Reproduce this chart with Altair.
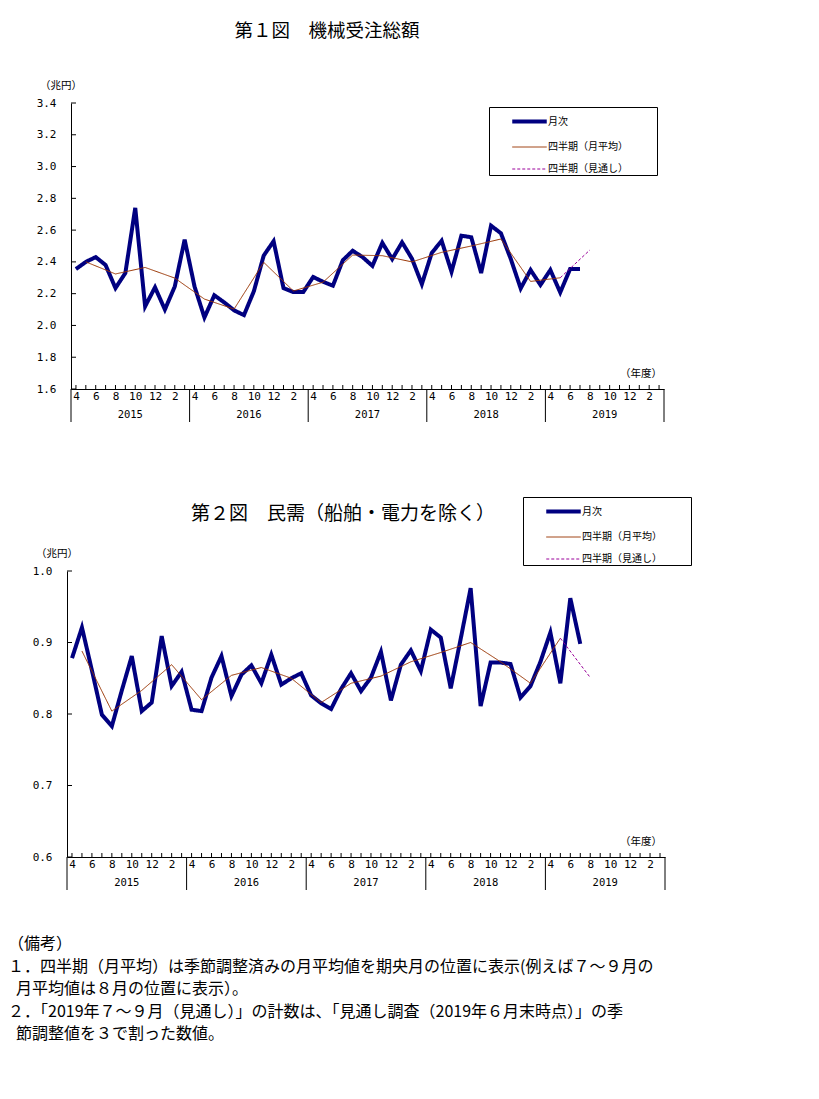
import json
import altair as alt
import pandas as pd

# ---------------- data ----------------
years = ["2015", "2016", "2017", "2018", "2019"]
month_labels = ["4", "", "6", "", "8", "", "10", "", "12", "", "2", ""] * 5
series_names = ["月次", "四半期（月平均）", "四半期（見通し）"]
series_colors = ["#000080", "#993300", "#990099"]
series_dashes = [[1, 0], [1, 0], [3, 2]]
series_widths = [4, 1, 1]

# 第1図 機械受注総額 (兆円), 2015年4月 - 2019年7月
m1 = [2.355, 2.40, 2.43, 2.38, 2.235, 2.33, 2.74, 2.12, 2.24, 2.10, 2.245, 2.54,
      2.245, 2.05, 2.19, 2.145, 2.095, 2.065, 2.215, 2.44, 2.53, 2.235, 2.21, 2.21,
      2.305, 2.275, 2.25, 2.41, 2.47, 2.43, 2.375, 2.52, 2.418, 2.523, 2.42, 2.26,
      2.456, 2.533, 2.338, 2.565, 2.555, 2.33, 2.628, 2.58, 2.418, 2.233, 2.349, 2.255,
      2.349, 2.208, 2.355, 2.355]
q1 = [2.40, 2.324, 2.365, 2.298, 2.166, 2.103, 2.397, 2.217,
      2.272, 2.443, 2.439, 2.40, 2.46, 2.50, 2.544, 2.277, 2.30]
f1 = [2.30, 2.475]

# 第2図 民需（船舶・電力を除く）(兆円)
m2 = [0.878, 0.921, 0.861, 0.799, 0.783, 0.833, 0.881, 0.804, 0.816, 0.909, 0.839, 0.859,
      0.806, 0.804, 0.851, 0.881, 0.825, 0.855, 0.868, 0.843, 0.883, 0.841, 0.850, 0.857,
      0.826, 0.815, 0.807, 0.835, 0.857, 0.832, 0.851, 0.887, 0.819, 0.869, 0.889, 0.860,
      0.918, 0.907, 0.836, 0.905, 0.976, 0.811, 0.872, 0.872, 0.870, 0.823, 0.839, 0.873,
      0.914, 0.843, 0.962, 0.898]
q2 = [0.888, 0.804, 0.833, 0.869, 0.820, 0.854, 0.865, 0.850,
      0.816, 0.843, 0.853, 0.873, 0.886, 0.900, 0.873, 0.843, 0.906]
f2 = [0.906, 0.851]
forecast_idx = [49, 52]

y1_ticks = [1.6, 1.8, 2.0, 2.2, 2.4, 2.6, 2.8, 3.0, 3.2, 3.4]
y2_ticks = [0.6, 0.7, 0.8, 0.9, 1.0]

titles = ["第１図　機械受注総額", "第２図　民需（船舶・電力を除く）"]
unit_label = "（兆円）"
fy_label = "（年度）"
note_lines = [
    "（備考）",
    "１．四半期（月平均）は季節調整済みの月平均値を期央月の位置に表示(例えば７～９月の",
    "月平均値は８月の位置に表示）。",
    "２．「2019年７～９月（見通し）」の計数は、「見通し調査（2019年６月末時点）」の季",
    "節調整値を３で割った数値。",
]
note_indent = [0, 0, 1, 0, 1]

JP = "Noto Sans CJK JP"
NUM = "DejaVu Sans Mono"
PAD = "\u2800" * 4  # blank glyphs that keep the legend box wide on the right


def txt(s, x, y, size, font=JP, align="center", baseline="middle"):
    return alt.Chart(pd.DataFrame({"t": [s]})).mark_text(
        font=font, fontSize=size, align=align, baseline=baseline, color="black"
    ).encode(x=alt.value(x), y=alt.value(y), text="t:N")


def panel(m, q, f, yticks, ydom, W, H, xoff, title, title_xy, title_size, legend_xy, extra=()):
    rows = []
    for i, v in enumerate(m):
        rows.append({"idx": i, "v": v, "s": series_names[0]})
    for k, v in enumerate(q):
        rows.append({"idx": 1 + 3 * k, "v": v, "s": series_names[1]})
    for k, v in enumerate(f):
        rows.append({"idx": forecast_idx[k], "v": v, "s": series_names[2]})
    df = pd.DataFrame(rows)

    xs = alt.Scale(domain=[-0.5, 59.5], range=[xoff, W], nice=False, zero=False)
    ys = alt.Scale(domain=ydom, nice=False, zero=False)

    leg = alt.Legend(
        orient="none", legendX=legend_xy[0], legendY=legend_xy[1], title=None,
        symbolType="M-1.5,0H1.5", symbolSize=529, strokeColor="black", fillColor="white",
        padding=1, symbolOffset=26, rowPadding=5, labelFont=JP, labelFontSize=10,
        labelColor="black", labelOffset=5, labelExpr="datum.label + '%s'" % PAD,
    )

    xaxis = alt.Axis(
        values=list(range(60)),
        labelExpr=json.dumps(month_labels) + "[datum.value]",
        tickSize=0, grid=False, domainColor="black", labelColor="black",
        labelFont=NUM, labelFontSize=11, labelPadding=1, labelFlush=False,
        labelOverlap=False, title=None,
    )
    yaxis = alt.Axis(
        values=yticks, format=".1f", tickSize=0, grid=False, domainColor="black",
        labelColor="black", labelFont=NUM, labelFontSize=11, labelPadding=15,
        title=None, offset=-xoff,
    )
    X = lambda: alt.X("idx:Q", scale=xs, axis=xaxis)
    Y = lambda: alt.Y("v:Q", scale=ys, axis=yaxis)

    lines = alt.Chart(df).mark_line().encode(
        x=X(), y=Y(),
        color=alt.Color("s:N", scale=alt.Scale(domain=series_names, range=series_colors), legend=leg),
        strokeDash=alt.StrokeDash("s:N", scale=alt.Scale(domain=series_names, range=series_dashes), legend=leg),
        strokeWidth=alt.StrokeWidth("s:N", scale=alt.Scale(type="ordinal", domain=series_names, range=series_widths), legend=leg),
    )

    ytick_marks = alt.Chart(pd.DataFrame({"v": yticks})).mark_rule(color="black").encode(
        y=Y(), x=alt.value(xoff), x2=alt.value(xoff + 5)
    )
    xtick_marks = alt.Chart(pd.DataFrame({"idx": list(range(60))})).mark_rule(color="black").encode(
        x=X(), y=alt.value(H - 4), y2=alt.value(H)
    )
    seps = alt.Chart(pd.DataFrame({"idx": [-0.5 + 12 * k for k in range(6)]})).mark_rule(color="black").encode(
        x=X(), y=alt.value(H), y2=alt.value(H + 33)
    )
    ylabels = alt.Chart(pd.DataFrame({"idx": [5.5 + 12 * k for k in range(5)], "yr": years})).mark_text(
        font=NUM, fontSize=10.5, color="black", baseline="middle"
    ).encode(x=X(), y=alt.value(H + 26), text="yr:N")

    layers = [lines, ytick_marks, xtick_marks, seps, ylabels,
              txt(title, title_xy[0], title_xy[1], title_size),
              txt(unit_label, xoff - 10, -17, 10.5),
              txt(fy_label, 595, H - 15, 10.5, align="right")]
    layers += list(extra)
    return alt.layer(*layers).properties(width=W, height=H)


notes = []
for k, s in enumerate(note_lines):
    notes.append(txt(s, -59 + 8 * note_indent[k], 373 + 22.5 * k, 16, align="left"))

p1 = panel(m1, q1, f1, y1_ticks, [1.6, 3.4], 597, 286, 4, titles[0], (260, -72), 18.5, (422, 4))
p2 = panel(m2, q2, f2, y2_ticks, [0.6, 1.0], 598, 286, 0, titles[1], (276, -57), 19, (456, -74), notes)

chart = alt.vconcat(p1, p2, spacing=182, bounds="flush").resolve_scale(
    color="independent", strokeDash="independent", strokeWidth="independent",
    x="independent", y="independent"
).properties(
    padding={"left": 0, "top": 14, "right": 10, "bottom": 12}
).configure_view(strokeWidth=0)

chart.save("out.html", embed_options={"renderer": "svg", "actions": False})
